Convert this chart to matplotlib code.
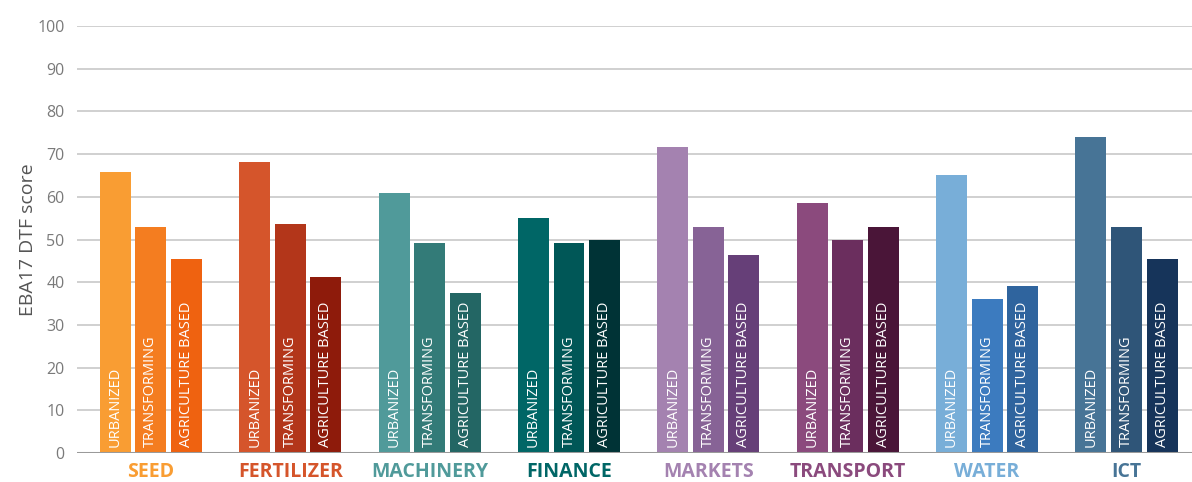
import matplotlib
matplotlib.use("Agg")
import matplotlib.pyplot as plt
import numpy as np

plt.rcParams['font.family'] = ['Open Sans', 'DejaVu Sans']

categories = ['SEED', 'FERTILIZER', 'MACHINERY', 'FINANCE', 'MARKETS', 'TRANSPORT', 'WATER', 'ICT']
groups = ['URBANIZED', 'TRANSFORMING', 'AGRICULTURE BASED']
urbanized = [65.8, 68.2, 60.9, 55.1, 71.7, 58.6, 65.1, 74.0]
transforming = [53.0, 53.7, 49.2, 49.2, 53.0, 49.9, 36.1, 53.0]
agri_based = [45.5, 41.3, 37.5, 49.9, 46.5, 53.0, 39.2, 45.5]

# one colour triple per category (urbanized, transforming, agriculture based)
colors = [
    ['#F99D33', '#F47D20', '#EF6210'],
    ['#D5552B', '#B3361A', '#8E1B0B'],
    ['#509A9A', '#337B78', '#236664'],
    ['#006666', '#005757', '#003336'],
    ['#A482B0', '#876396', '#663F78'],
    ['#8B4A7D', '#6B2E5E', '#4A1538'],
    ['#78AED8', '#3C7BBF', '#2F649E'],
    ['#477496', '#2F5578', '#16345A'],
]

fig = plt.figure(figsize=(11.92, 4.82), dpi=100)
ax = fig.add_axes([0.0646, 0.06, 0.9354, 0.886])

x = np.arange(len(categories))
width = 0.222
step = 0.255
series = [urbanized, transforming, agri_based]
for i, vals in enumerate(series):
    pos = x + (i - 1) * step
    bars = ax.bar(pos, vals, width, color=[c[i] for c in colors], zorder=3)
    for p in pos:
        ax.text(p, 1.5, groups[i], rotation=90, ha='center', va='bottom',
                color='white', fontsize=10.5, zorder=4)

ax.set_xlim(-0.53, 7.47)
ax.set_ylim(0, 100)
ax.set_yticks(range(0, 101, 10))
ax.yaxis.grid(True, color='#c8c8c8', linewidth=1.2, zorder=0)
ax.axhline(0, color='#9a9a9a', linewidth=2.2, zorder=5)
for s in ax.spines.values():
    s.set_visible(False)
ax.tick_params(axis='y', length=0, pad=9, labelsize=11.5, labelcolor='#7a7a7a')
ax.set_xticks(x)
ax.set_xticklabels(categories, fontsize=14, fontweight='bold')
for lbl, c in zip(ax.get_xticklabels(), colors):
    lbl.set_color(c[0])
ax.tick_params(axis='x', length=0, pad=6.5)
ax.set_ylabel('EBA17 DTF score', fontsize=14, color='#555555', labelpad=0)

plt.savefig('out.png', dpi=100)
